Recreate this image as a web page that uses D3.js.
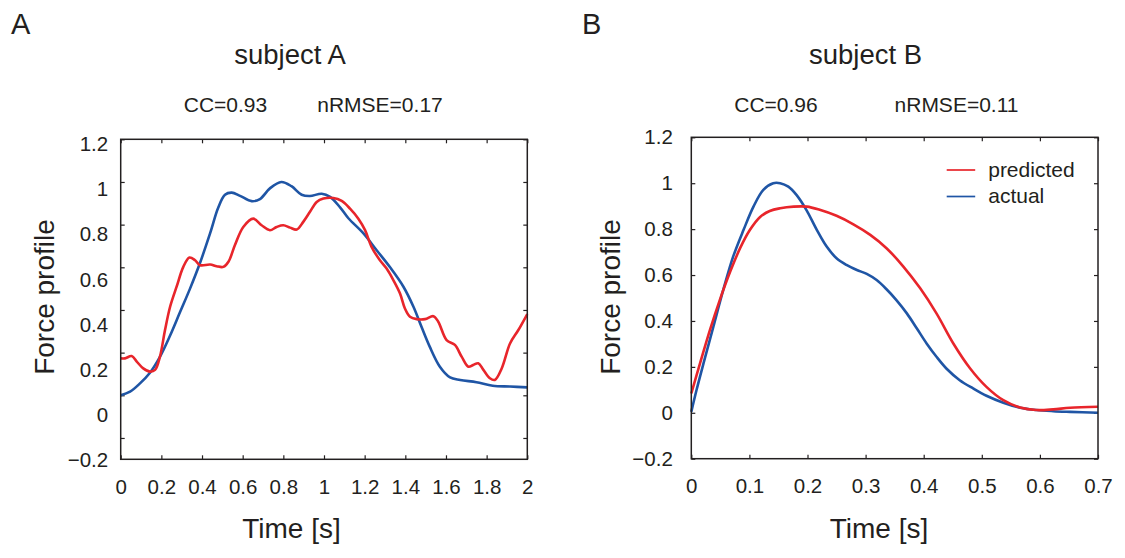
<!DOCTYPE html>
<html>
<head>
<meta charset="utf-8">
<script src="https://cdn.jsdelivr.net/npm/d3@7"></script>
<style>
  body { margin: 0; background: #fff; }
  text { font-family: "Liberation Sans", Arial, sans-serif; fill: #231f20; }
</style>
</head>
<body>
<div id="chart"></div>
<script>
// ---- data ----
var yTicks = [-0.2, 0, 0.2, 0.4, 0.6, 0.8, 1, 1.2];
var xTicksA = [0, 0.2, 0.4, 0.6, 0.8, 1, 1.2, 1.4, 1.6, 1.8, 2];
var xTicksB = [0, 0.1, 0.2, 0.3, 0.4, 0.5, 0.6, 0.7];

// subject A, actual (blue)
var timeActualA = [0, 0.046, 0.095, 0.144, 0.193, 0.243, 0.292, 0.341, 0.39, 0.44, 0.48, 0.513, 0.546, 0.587,
  0.644, 0.685, 0.734, 0.79, 0.84, 0.89, 0.931, 0.989, 1.03, 1.08, 1.12, 1.193, 1.259, 1.325, 1.39, 1.44,
  1.48, 1.52, 1.57, 1.62, 1.67, 1.75, 1.83, 1.915, 2.0];
var actualA = [0.0, 0.017, 0.056, 0.106, 0.18, 0.28, 0.39, 0.5, 0.62, 0.76, 0.88, 0.94, 0.95, 0.935,
  0.91, 0.92, 0.97, 1.0, 0.98, 0.94, 0.934, 0.945, 0.93, 0.88, 0.83, 0.76, 0.68, 0.6, 0.51, 0.415,
  0.32, 0.228, 0.134, 0.084, 0.072, 0.061, 0.045, 0.041, 0.037];

// subject A, predicted (red)
var timePredA = [0, 0.021, 0.054, 0.079, 0.111, 0.144, 0.169, 0.193, 0.218, 0.243, 0.275, 0.308, 0.338, 0.366,
  0.39, 0.44, 0.472, 0.505, 0.53, 0.562, 0.603, 0.652, 0.693, 0.734, 0.767, 0.8, 0.833, 0.866, 0.898,
  0.931, 0.964, 0.997, 1.046, 1.087, 1.128, 1.169, 1.202, 1.234, 1.275, 1.308, 1.341, 1.374, 1.398,
  1.423, 1.456, 1.497, 1.538, 1.562, 1.603, 1.644, 1.677, 1.71, 1.734, 1.759, 1.784, 1.816, 1.84,
  1.874, 1.915, 1.956, 2.0];
var predictedA = [0.173, 0.173, 0.184, 0.158, 0.126, 0.111, 0.119, 0.181, 0.306, 0.415, 0.509, 0.602, 0.646, 0.633,
  0.61, 0.613, 0.605, 0.602, 0.626, 0.704, 0.789, 0.828, 0.797, 0.774, 0.789, 0.797, 0.786, 0.777, 0.813,
  0.86, 0.906, 0.922, 0.925, 0.911, 0.875, 0.828, 0.774, 0.696, 0.633, 0.594, 0.54, 0.477, 0.407,
  0.368, 0.357, 0.357, 0.371, 0.345, 0.259, 0.236, 0.181, 0.134, 0.142, 0.15, 0.119, 0.08, 0.072,
  0.126, 0.243, 0.306, 0.381];

// subject B, actual (blue)
var timeActualB = [0, 0.009, 0.021, 0.038, 0.055, 0.072, 0.09, 0.107, 0.124, 0.141, 0.153, 0.167, 0.181, 0.198,
  0.216, 0.233, 0.25, 0.267, 0.285, 0.302, 0.319, 0.336, 0.353, 0.371, 0.388, 0.405, 0.422, 0.439,
  0.462, 0.485, 0.508, 0.537, 0.566, 0.594, 0.623, 0.652, 0.7];
var actualB = [0.004, 0.099, 0.215, 0.375, 0.535, 0.68, 0.797, 0.898, 0.971, 1.0, 1.0, 0.985, 0.949, 0.884,
  0.797, 0.724, 0.673, 0.644, 0.622, 0.605, 0.578, 0.538, 0.491, 0.433, 0.368, 0.302, 0.244, 0.193,
  0.142, 0.106, 0.074, 0.044, 0.022, 0.012, 0.007, 0.004, 0.0];

// subject B, predicted (red)
var timePredB = [0, 0.015, 0.032, 0.049, 0.067, 0.084, 0.101, 0.118, 0.135, 0.153, 0.176, 0.199, 0.221, 0.25,
  0.279, 0.308, 0.336, 0.365, 0.394, 0.422, 0.451, 0.48, 0.508, 0.537, 0.566, 0.594, 0.623, 0.652, 0.7];
var predictedB = [0.084, 0.215, 0.36, 0.491, 0.615, 0.717, 0.797, 0.852, 0.879, 0.891, 0.898, 0.898, 0.884, 0.858,
  0.821, 0.775, 0.717, 0.637, 0.542, 0.433, 0.302, 0.193, 0.113, 0.055, 0.023, 0.012, 0.015, 0.022, 0.026];

var RED = '#e8252b', BLUE = '#1f55a5';

var svg = d3.select('#chart').append('svg')
  .attr('width', 1125)
  .attr('height', 558);

var fmt = d3.format('');

function zip(ts, vs){
  return ts.map(function(t, i){ return [t, vs[i]]; });
}

var drawPanel = function(p){
  var g = svg.append('g').attr('transform', 'translate(' + p.left + ',' + p.top + ')');
  var x = d3.scaleLinear().domain(p.xDomain).range([0, p.width]);
  var y = d3.scaleLinear().domain(p.yDomain).range([p.height, 0]);

  // inward ticks on all four sides
  g.append('g').attr('class', 'tk')
    .attr('transform', 'translate(0,' + p.height + ')')
    .call(d3.axisBottom(x).tickValues(p.xTicks).tickSizeInner(-4).tickSizeOuter(0).tickPadding(20).tickFormat(fmt));
  g.append('g').attr('class', 'tk')
    .call(d3.axisTop(x).tickValues(p.xTicks).tickSizeInner(-4).tickSizeOuter(0).tickFormat(''));
  g.append('g').attr('class', 'tk')
    .attr('transform', 'translate(' + p.width + ',0)')
    .call(d3.axisRight(y).tickValues(yTicks).tickSizeInner(-4).tickSizeOuter(0).tickFormat(''));
  if(p.yLabelRange){
    // tick marks follow the data scale, labels sit where the figure prints them
    g.append('g').attr('class', 'tk')
      .call(d3.axisLeft(y).tickValues(yTicks).tickSizeInner(-4).tickSizeOuter(0).tickFormat(''));
    var yl = d3.scaleLinear().domain([-0.2, 1.2]).range(p.yLabelRange);
    g.append('g').attr('class', 'tk lab')
      .call(d3.axisLeft(yl).tickValues(yTicks).tickSize(0).tickPadding(p.yPad).tickFormat(fmt));
  } else {
    g.append('g').attr('class', 'tk')
      .call(d3.axisLeft(y).tickValues(yTicks).tickSizeInner(-4).tickSizeOuter(0).tickPadding(p.yPad).tickFormat(fmt));
  }
  g.selectAll('.tk .domain').remove();
  g.selectAll('.tk line').attr('stroke', '#231f20').attr('stroke-width', 1.2);
  g.selectAll('.tk text').style('font-size', '20.5px').attr('fill', '#231f20');

  var line = d3.line()
    .x(function(d){ return x(d[0]); })
    .y(function(d){ return y(d[1]); })
    .curve(d3.curveCatmullRom.alpha(0.5));

  g.append('path')
    .attr('d', line(zip(p.tActual, p.actual)))
    .attr('fill', 'none').attr('stroke', BLUE).attr('stroke-width', 2.6);
  g.append('path')
    .attr('d', line(zip(p.tPred, p.pred)))
    .attr('fill', 'none').attr('stroke', RED).attr('stroke-width', 2.6);

  // frame
  g.append('rect')
    .attr('width', p.width).attr('height', p.height)
    .attr('fill', 'none').attr('stroke', '#231f20').attr('stroke-width', 1.5);

  // texts
  svg.append('text').attr('x', p.letterX).attr('y', 34).style('font-size', '29px').text(p.letter);
  svg.append('text').attr('x', p.titleX).attr('y', 64).style('text-anchor', 'middle')
    .style('font-size', '27.5px').text(p.title);
  svg.append('text').attr('x', p.ccX).attr('y', 112).style('text-anchor', 'middle')
    .style('font-size', '21px').text(p.cc);
  svg.append('text').attr('x', p.rmseX).attr('y', 112).style('text-anchor', 'middle')
    .style('font-size', '21px').text(p.rmse);
  svg.append('text').attr('x', p.xTitleX).attr('y', 538).style('text-anchor', 'middle')
    .style('font-size', '28px').text('Time [s]');
  svg.append('text')
    .attr('transform', 'translate(' + p.yTitleX + ',297) rotate(-90)')
    .style('text-anchor', 'middle').style('font-size', '28px').text('Force profile');
};

drawPanel({
  left: 120.7, top: 139.3, width: 406.6, height: 320,
  xDomain: [0, 2], yDomain: [-0.3, 1.2], xTicks: xTicksA,
  yLabelRange: [320.7, 4.9], yPad: 12.5,
  tActual: timeActualA, actual: actualA, tPred: timePredA, pred: predictedA,
  letter: 'A', letterX: 11, title: 'subject A', titleX: 290,
  cc: 'CC=0.93', ccX: 225.5, rmse: 'nRMSE=0.17', rmseX: 380,
  xTitleX: 291.5, yTitleX: 54
});

drawPanel({
  left: 691.3, top: 137.3, width: 406.7, height: 321.4,
  xDomain: [0, 0.7], yDomain: [-0.2, 1.2], xTicks: xTicksB,
  yPad: 18.5,
  tActual: timeActualB, actual: actualB, tPred: timePredB, pred: predictedB,
  letter: 'B', letterX: 582, title: 'subject B', titleX: 865.5,
  cc: 'CC=0.96', ccX: 776, rmse: 'nRMSE=0.11', rmseX: 956.5,
  xTitleX: 879, yTitleX: 619.5
});

// legend (panel B)
var legendNames = ['predicted', 'actual'];
var legendColors = [RED, BLUE];
var legend = svg.append('g').attr('transform', 'translate(946.7,170)');
legendNames.forEach(function(name, i){
  legend.append('line')
    .attr('x1', 0).attr('x2', 28.5).attr('y1', i * 26.5).attr('y2', i * 26.5)
    .attr('stroke', legendColors[i]).attr('stroke-width', 1.7);
  legend.append('text')
    .attr('x', 41.5).attr('y', i * 26.5 + 6.5)
    .style('font-size', '21px').text(name);
});
</script>
</body>
</html>
